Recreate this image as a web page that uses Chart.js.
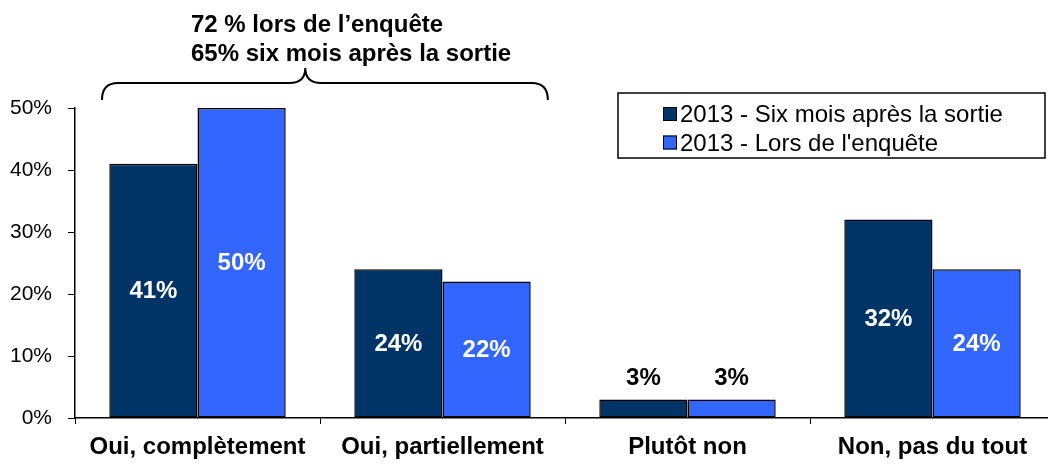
<!DOCTYPE html>
<html>
<head>
<meta charset="utf-8">
<script src="https://cdn.jsdelivr.net/npm/chart.js@4/dist/chart.umd.min.js"></script>
<style>
    html, body { margin: 0; padding: 0; background: #fff; overflow: hidden; }
    #wrap { width: 1062px; height: 465px; }
</style>
</head>
<body>
<div id="wrap"><canvas id="satisfactionChart" width="1062" height="465"></canvas></div>
<script>
const categories = ['Oui, complètement', 'Oui, partiellement', 'Plutôt non', 'Non, pas du tout'];
const seriesLabels = ['2013 - Six mois après la sortie', '2013 - Lors de l\'enquête'];
const sixMois = [41, 24, 3, 32];
const lorsEnquete = [50, 22, 3, 24];
const yTicks = [0, 10, 20, 30, 40, 50];
const noteLines = ['72 % lors de l\u2019enquête', '65% six mois après la sortie'];

const DARK = '#003366';
const LIGHT = '#3366FF';
const FONT = '"Liberation Sans", Arial, sans-serif';

// values on the bars: white in the middle, black above the short ones
const barLabels = {
    id: 'barLabels',
    afterDatasetsDraw(chart) {
        const ctx = chart.ctx;
        ctx.save();
        ctx.font = 'bold 24px ' + FONT;
        ctx.textAlign = 'center';
        ctx.textBaseline = 'middle';
        chart.data.datasets.forEach((ds, i) => {
            chart.getDatasetMeta(i).data.forEach((bar, j) => {
                const v = ds.data[j];
                if (v < 10) {
                    ctx.fillStyle = '#000';
                    ctx.fillText(v + '%', bar.x, bar.y - 21);
                } else {
                    ctx.fillStyle = '#fff';
                    ctx.fillText(v + '%', bar.x, (bar.y + bar.base) / 2 + 1);
                }
            });
        });
        ctx.restore();
    }
};

// boxed legend in the top right corner
const boxLegend = {
    id: 'boxLegend',
    afterDraw(chart) {
        const ctx = chart.ctx;
        const x0 = 618, y0 = 93, w = 427, h = 65;
        ctx.save();
        ctx.fillStyle = '#fff';
        ctx.fillRect(x0, y0, w, h);
        ctx.strokeStyle = '#000';
        ctx.lineWidth = 1.5;
        ctx.strokeRect(x0, y0, w, h);
        ctx.font = '24px ' + FONT;
        ctx.textBaseline = 'alphabetic';
        chart.data.datasets.forEach((ds, i) => {
            const base = y0 + 29 + i * 28.5;
            ctx.fillStyle = ds.backgroundColor;
            ctx.fillRect(663, base - 15, 14, 14);
            ctx.lineWidth = 1;
            ctx.strokeRect(663.5, base - 14.5, 13, 13);
            ctx.fillStyle = '#000';
            ctx.fillText(ds.label, 680, base);
        });
        ctx.restore();
    }
};

// curly brace over the two "Oui" groups with its note
const braceNote = {
    id: 'braceNote',
    afterDraw(chart) {
        const ctx = chart.ctx;
        const x = chart.scales.x;
        const cw = x.getPixelForValue(1) - x.getPixelForValue(0);
        const left = x.getPixelForValue(0) - cw * 0.39;
        const right = x.getPixelForValue(1) + cw * 0.43;
        const tip = x.getPixelForValue(0) + cw * 0.44;
        const yEnd = 100, yMid = 83, yTip = 68;
        ctx.save();
        ctx.strokeStyle = '#000';
        ctx.lineWidth = 2;
        ctx.beginPath();
        ctx.moveTo(left, yEnd);
        ctx.quadraticCurveTo(left, yMid, left + 16, yMid);
        ctx.lineTo(tip - 16, yMid);
        ctx.quadraticCurveTo(tip, yMid, tip, yTip);
        ctx.quadraticCurveTo(tip, yMid, tip + 16, yMid);
        ctx.lineTo(right - 16, yMid);
        ctx.quadraticCurveTo(right, yMid, right, yEnd);
        ctx.stroke();

        ctx.fillStyle = '#000';
        ctx.font = 'bold 24px ' + FONT;
        ctx.textAlign = 'left';
        ctx.textBaseline = 'alphabetic';
        noteLines.forEach((line, i) => ctx.fillText(line, 191, 32 + i * 29));
        ctx.restore();
    }
};

function renderSatisfactionChart() {
    const ctx = document.getElementById('satisfactionChart').getContext('2d');
    new Chart(ctx, {
        type: 'bar',
        data: {
            labels: categories,
            datasets: [{
                label: seriesLabels[0],
                data: sixMois,
                backgroundColor: DARK,
                borderColor: '#000',
                borderWidth: 1.5,
                borderSkipped: false
            }, {
                label: seriesLabels[1],
                data: lorsEnquete,
                backgroundColor: LIGHT,
                borderColor: '#000',
                borderWidth: 1.5,
                borderSkipped: false
            }]
        },
        options: {
            responsive: false,
            animation: false,
            layout: { padding: { top: 108, right: 7, left: 0, bottom: 0 } },
            datasets: { bar: { categoryPercentage: 0.72, barPercentage: 1.0 } },
            scales: {
                x: {
                    grid: { offset: true, drawOnChartArea: false, drawTicks: true, tickLength: 6, color: '#000' },
                    border: { color: '#000', width: 1.5 },
                    ticks: { color: '#000', font: { family: FONT, size: 24, weight: 'bold' }, padding: 9, maxRotation: 0, autoSkip: false },
                    afterFit: function (scale) { scale.height = 47; }
                },
                y: {
                    min: 0,
                    max: 50,
                    afterBuildTicks: function (scale) {
                        scale.ticks = yTicks.map(v => ({ value: v }));
                    },
                    grid: { drawOnChartArea: false, drawTicks: true, tickLength: 7, color: '#000' },
                    border: { color: '#000', width: 1.5 },
                    ticks: {
                        color: '#000',
                        font: { family: FONT, size: 21 },
                        padding: 16,
                        callback: function (value) { return value + '%'; }
                    },
                    afterFit: function (scale) { scale.width = 75; }
                }
            },
            plugins: {
                legend: { display: false },
                tooltip: { enabled: false }
            }
        },
        plugins: [barLabels, boxLegend, braceNote]
    });
}

renderSatisfactionChart();
</script>
</body>
</html>
